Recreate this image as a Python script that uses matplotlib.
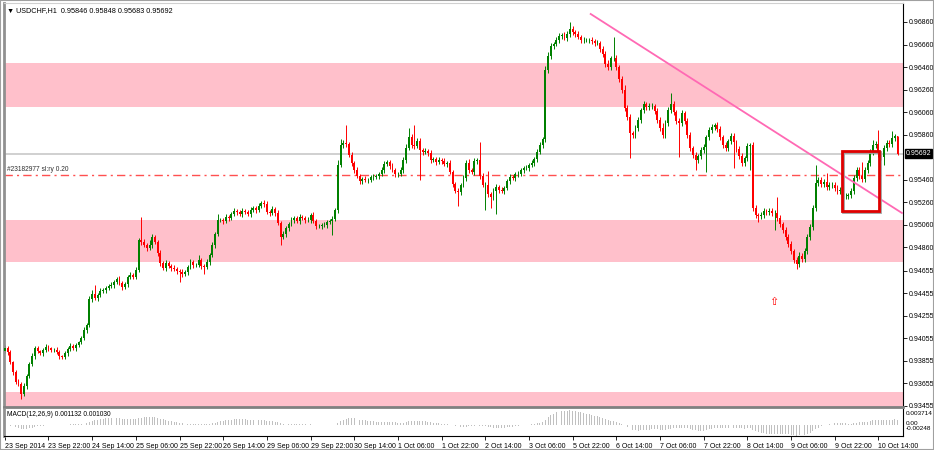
import numpy as np
import pandas as pd
import matplotlib
matplotlib.use("Agg")
import matplotlib.pyplot as plt
from matplotlib.patches import Rectangle
from matplotlib.transforms import blended_transform_factory

plt.rcParams["font.family"] = ["Liberation Sans", "DejaVu Sans"]

# USDCHF H1 closes, 23 Sep 2014 06:00 -> 10 Oct 2014 (16 bars per row)
closes = [
    0.93968, 0.93933, 0.93844, 0.93755, 0.93667, 0.93649, 0.93560, 0.93631, 0.93720, 0.93826, 0.93897, 0.93968, 0.93942, 0.93924, 0.93951, 0.93977,
    0.93968, 0.93951, 0.93951, 0.93933, 0.93897, 0.93889, 0.93924, 0.93960, 0.93986, 0.93968, 0.93995, 0.94022, 0.94057, 0.94128, 0.94172, 0.94403,
    0.94447, 0.94412, 0.94438, 0.94474, 0.94483, 0.94501, 0.94518, 0.94527, 0.94554, 0.94580, 0.94545, 0.94509, 0.94536, 0.94598, 0.94616, 0.94598,
    0.94660, 0.94926, 0.94909, 0.94882, 0.94855, 0.94882, 0.94953, 0.94909, 0.94811, 0.94722, 0.94678, 0.94722, 0.94696, 0.94678, 0.94669, 0.94651,
    0.94642, 0.94625, 0.94642, 0.94687, 0.94731, 0.94705, 0.94705, 0.94749, 0.94696, 0.94687, 0.94731, 0.94793, 0.94882, 0.94980, 0.95104, 0.95104,
    0.95095, 0.95130, 0.95121, 0.95157, 0.95184, 0.95175, 0.95157, 0.95184, 0.95175, 0.95157, 0.95192, 0.95210, 0.95192, 0.95228, 0.95255, 0.95246,
    0.95175, 0.95166, 0.95201, 0.95166, 0.95077, 0.94953, 0.94980, 0.95033, 0.95068, 0.95104, 0.95121, 0.95095, 0.95130, 0.95121, 0.95104, 0.95104,
    0.95148, 0.95095, 0.95051, 0.95051, 0.95059, 0.95059, 0.95086, 0.95095, 0.95113, 0.95192, 0.95592, 0.95769, 0.95787, 0.95778, 0.95680, 0.95609,
    0.95547, 0.95494, 0.95450, 0.95467, 0.95459, 0.95459, 0.95485, 0.95485, 0.95494, 0.95512, 0.95547, 0.95600, 0.95618, 0.95583, 0.95547, 0.95512,
    0.95512, 0.95547, 0.95636, 0.95742, 0.95840, 0.95769, 0.95760, 0.95804, 0.95725, 0.95707, 0.95716, 0.95698, 0.95636, 0.95645, 0.95618, 0.95636,
    0.95627, 0.95600, 0.95609, 0.95529, 0.95423, 0.95361, 0.95352, 0.95414, 0.95476, 0.95609, 0.95547, 0.95529, 0.95627, 0.95636, 0.95494, 0.95414,
    0.95414, 0.95334, 0.95308, 0.95361, 0.95396, 0.95370, 0.95361, 0.95388, 0.95450, 0.95485, 0.95476, 0.95512, 0.95512, 0.95547, 0.95565, 0.95565,
    0.95592, 0.95609, 0.95645, 0.95707, 0.95769, 0.95822, 0.96434, 0.96558, 0.96647, 0.96665, 0.96700, 0.96736, 0.96745, 0.96718, 0.96754, 0.96798,
    0.96771, 0.96754, 0.96727, 0.96700, 0.96700, 0.96700, 0.96700, 0.96691, 0.96674, 0.96674, 0.96621, 0.96576, 0.96487, 0.96461, 0.96541, 0.96541,
    0.96461, 0.96354, 0.96257, 0.96097, 0.96017, 0.95875, 0.95858, 0.95920, 0.95991, 0.96079, 0.96133, 0.96106, 0.96115, 0.96115, 0.96071, 0.95991,
    0.95920, 0.95858, 0.95964, 0.96079, 0.96133, 0.96062, 0.95982, 0.95964, 0.96053, 0.95982, 0.95858, 0.95742, 0.95680, 0.95636, 0.95671, 0.95725,
    0.95751, 0.95840, 0.95902, 0.95929, 0.95946, 0.95911, 0.95840, 0.95769, 0.95742, 0.95804, 0.95849, 0.95796, 0.95734, 0.95671, 0.95609, 0.95654,
    0.95760, 0.95769, 0.95210, 0.95148, 0.95139, 0.95148, 0.95184, 0.95175, 0.95184, 0.95166, 0.95166, 0.95121, 0.95068, 0.95015, 0.94953, 0.94891,
    0.94829, 0.94749, 0.94713, 0.94784, 0.94758, 0.94829, 0.94953, 0.95042, 0.95210, 0.95432, 0.95459, 0.95423, 0.95441, 0.95396, 0.95414, 0.95414,
    0.95388, 0.95361, 0.95370, 0.95317, 0.95317, 0.95325, 0.95361, 0.95476, 0.95547, 0.95494, 0.95467, 0.95547, 0.95609, 0.95707, 0.95769, 0.95778,
    0.95689, 0.95663, 0.95742, 0.95787, 0.95778, 0.95831, 0.95846, 0.95692,
]
first_open = 0.93940

# wick lengths above / below the body, in pips
wick_up = [
    3, 2, 2, 1, 2, 3, 2, 3, 2, 2, 3, 2, 2, 1, 2, 3,
    2, 1, 2, 3, 2, 1, 2, 2, 3, 2, 2, 1, 2, 3, 2, 3,
    4, 8, 2, 3, 2, 2, 2, 3, 2, 2, 3, 2, 2, 2, 3, 2,
    3, 2, 20, 3, 2, 4, 3, 2, 2, 3, 2, 3, 2, 2, 3, 2,
    2, 3, 2, 2, 3, 2, 2, 4, 2, 2, 3, 2, 3, 2, 5, 2,
    2, 3, 2, 2, 3, 2, 2, 3, 2, 2, 3, 2, 2, 3, 2, 3,
    3, 2, 3, 2, 3, 2, 3, 2, 2, 3, 2, 2, 3, 2, 2, 3,
    2, 3, 2, 2, 2, 3, 2, 2, 3, 2, 4, 5, 3, 16, 2, 3,
    2, 3, 2, 2, 3, 2, 2, 3, 2, 2, 3, 3, 2, 2, 3, 2,
    2, 3, 3, 4, 8, 3, 18, 3, 3, 2, 3, 2, 3, 2, 2, 3,
    2, 3, 2, 3, 2, 2, 3, 2, 3, 3, 4, 2, 3, 2, 16, 3,
    3, 12, 2, 3, 3, 2, 3, 2, 2, 3, 2, 2, 3, 2, 2, 3,
    2, 3, 2, 3, 3, 2, 4, 4, 3, 2, 3, 3, 2, 3, 3, 6,
    3, 2, 3, 2, 3, 2, 2, 3, 2, 3, 2, 3, 3, 4, 2, 19,
    3, 2, 3, 4, 3, 3, 2, 3, 3, 2, 3, 2, 3, 3, 2, 3,
    3, 4, 3, 3, 10, 3, 2, 3, 3, 2, 3, 3, 2, 3, 2, 3,
    3, 2, 3, 3, 2, 3, 3, 2, 3, 2, 3, 3, 2, 3, 3, 2,
    3, 2, 3, 3, 2, 3, 3, 2, 3, 3, 3, 14, 3, 2, 3, 3,
    3, 2, 3, 4, 3, 3, 3, 3, 3, 16, 3, 3, 3, 8, 3, 3,
    3, 3, 3, 2, 3, 2, 3, 3, 3, 3, 12, 3, 3, 3, 4, 3,
    12, 3, 3, 3, 3, 6, 2, 0.2,
]
wick_dn = [
    2, 3, 2, 3, 2, 2, 4, 2, 3, 2, 2, 3, 2, 2, 3, 2,
    3, 2, 2, 2, 3, 2, 2, 3, 2, 2, 3, 2, 2, 2, 3, 2,
    3, 2, 3, 2, 2, 3, 2, 2, 3, 2, 2, 3, 2, 3, 2, 2,
    2, 2, 3, 2, 3, 2, 3, 2, 3, 3, 2, 3, 2, 3, 2, 3,
    9, 3, 2, 3, 2, 3, 2, 2, 3, 6, 2, 3, 2, 3, 2, 2,
    3, 2, 3, 2, 2, 3, 2, 3, 2, 2, 3, 2, 3, 2, 2, 3,
    2, 3, 2, 3, 2, 7, 2, 3, 3, 2, 3, 2, 3, 2, 3, 2,
    3, 2, 3, 2, 3, 2, 3, 2, 12, 2, 3, 2, 3, 3, 2, 3,
    3, 2, 3, 3, 2, 3, 2, 3, 2, 3, 2, 3, 2, 3, 2, 3,
    3, 2, 3, 3, 2, 3, 3, 2, 27, 3, 2, 3, 3, 2, 3, 2,
    3, 2, 3, 2, 3, 2, 12, 3, 2, 3, 3, 2, 3, 3, 3, 2,
    22, 3, 10, 3, 20, 3, 2, 3, 2, 3, 2, 3, 3, 2, 3, 2,
    3, 2, 3, 3, 2, 3, 3, 3, 3, 3, 2, 3, 3, 2, 3, 3,
    3, 3, 2, 3, 3, 2, 3, 3, 3, 2, 3, 3, 3, 3, 3, 3,
    3, 3, 3, 3, 3, 22, 3, 3, 3, 3, 3, 3, 3, 3, 3, 3,
    3, 3, 3, 3, 3, 3, 3, 30, 3, 3, 3, 3, 3, 9, 3, 3,
    3, 22, 3, 3, 3, 3, 3, 3, 3, 3, 3, 23, 3, 3, 3, 3,
    3, 21, 3, 3, 5, 3, 3, 3, 3, 3, 15, 3, 3, 3, 3, 3,
    3, 3, 4, 3, 3, 3, 3, 3, 3, 3, 3, 3, 3, 3, 3, 3,
    3, 3, 3, 4, 3, 3, 3, 3, 3, 3, 3, 3, 3, 3, 3, 3,
    3, 3, 7, 3, 3, 3, 3, 0.9,
]

time_labels = ["23 Sep 2014", "23 Sep 22:00", "24 Sep 14:00", "25 Sep 06:00", "25 Sep 22:00",
               "26 Sep 14:00", "29 Sep 06:00", "29 Sep 22:00", "30 Sep 14:00", "1 Oct 06:00",
               "1 Oct 22:00", "2 Oct 14:00", "3 Oct 06:00", "5 Oct 22:00", "6 Oct 14:00",
               "7 Oct 06:00", "7 Oct 22:00", "8 Oct 14:00", "9 Oct 06:00", "9 Oct 22:00",
               "10 Oct 14:00"]
price_ticks = [0.96860, 0.96660, 0.96460, 0.96260, 0.96060, 0.95860, 0.95460, 0.95260, 0.95060,
               0.94860, 0.94655, 0.94455, 0.94255, 0.94055, 0.93855, 0.93655, 0.93455]

# drawn objects
zones = [(0.96109, 0.96494), (0.94734, 0.95104), (0.93400, 0.93581)]
bid = 0.95692
stop_loss = 0.95503
trend_x = [214.6, 328.6]
trend_y = [0.96931, 0.95166]
box_x = (306.5, 320.3)
box_y = (0.95186, 0.95718)
arrow_pos = (281.7, 0.94376)

closes = np.array(closes)
opens = np.concatenate([[first_open], closes[:-1]])
highs = np.maximum(opens, closes) + np.array(wick_up) * 0.0001
lows = np.minimum(opens, closes) - np.array(wick_dn) * 0.0001
n = len(closes)
idx = np.arange(n)

s = pd.Series(closes)
macd = (s.ewm(span=12, adjust=False).mean() - s.ewm(span=26, adjust=False).mean()).values

W, H = 934, 450
fig = plt.figure(figsize=(W / 100, H / 100), dpi=100)
fig.patch.set_facecolor("white")

ax = fig.add_axes([4 / W, (H - 407) / H, 899 / W, 404 / H])
axm = fig.add_axes([4 / W, (H - 436) / H, 899 / W, 27 / H], sharex=ax)

for lo, hi in zones:
    ax.axhspan(lo, hi, color="#FFC0CB", lw=0, zorder=0)
ax.axhline(bid, color="#C8C8C8", lw=1.2, zorder=1)
ax.axhline(stop_loss, color="#FF5050", lw=1, ls=(0, (6, 3, 1.5, 3)), zorder=1)

up = closes >= opens
colors = np.where(up, "#008000", "#FF0000")
ax.vlines(idx, lows, highs, colors=colors, lw=0.7, zorder=2)
body_h = np.maximum(np.abs(closes - opens), 0.00003)
ax.bar(idx, body_h, bottom=np.minimum(opens, closes), width=0.7, color=colors, lw=0, zorder=3)

ax.plot(trend_x, trend_y, color="#FF69B4", lw=1.3, zorder=4)
ax.add_patch(Rectangle((box_x[0] + 0.4, box_y[0] - 0.00008), box_x[1] - box_x[0], box_y[1] - box_y[0],
                       fill=False, ec="#A0A0A0", lw=2, zorder=4))
ax.add_patch(Rectangle((box_x[0], box_y[0]), box_x[1] - box_x[0], box_y[1] - box_y[0],
                       fill=False, ec="#E00000", lw=2, zorder=5))
ax.text(arrow_pos[0], arrow_pos[1], "\u21e7", color="#FF0000", fontsize=8, ha="center", va="center",
        family="DejaVu Sans", zorder=5)

ax.set_xlim(-0.3, 329.0)
ax.set_ylim(0.934450, 0.970285)
ax.yaxis.tick_right()
ax.set_yticks(price_ticks)
ax.set_yticklabels(["%.5f" % p for p in price_ticks])
ax.tick_params(axis="y", labelsize=5, length=3, width=0.6, pad=1, colors="black")
ax.tick_params(axis="x", bottom=False, labelbottom=False)
ax.spines["left"].set_color("#909090")
ax.spines["left"].set_linewidth(2)
ax.spines["top"].set_color("#D0D0D0")
ax.spines["right"].set_color("black")
ax.spines["right"].set_linewidth(0.8)
ax.spines["bottom"].set_color("#808080")
ax.spines["bottom"].set_linewidth(2)

tr = blended_transform_factory(ax.transAxes, ax.transData)
ax.text(1.003, bid, "%.5f" % bid, transform=tr, fontsize=5, color="white", va="center", ha="left",
        bbox=dict(boxstyle="square,pad=0.12", fc="black", ec="black"), zorder=6, clip_on=False)
ax.text(0.003, stop_loss + 0.0002, "#23182977 sl:ry 0.20", transform=tr, fontsize=4.8, color="#303030",
        va="bottom", ha="left")
ax.text(0.003, 0.99, "\u25bc USDCHF,H1  0.95846 0.95848 0.95683 0.95692", transform=ax.transAxes,
        fontsize=5.2, va="top", ha="left", color="black")

# MACD pane
axm.bar(idx, macd, width=0.35, color="#C0C0C0", lw=0)
axm.set_ylim(-0.00248, 0.003714)
axm.set_yticks([])
axm.set_xticks(np.arange(0, 321, 16))
axm.set_xticklabels(time_labels, ha="left")
axm.tick_params(axis="x", labelsize=5, length=3, width=0.6, pad=2)
axm.spines["left"].set_color("#909090")
axm.spines["left"].set_linewidth(2)
axm.spines["top"].set_visible(False)
axm.spines["right"].set_color("black")
axm.spines["right"].set_linewidth(0.8)
axm.spines["bottom"].set_color("black")
axm.spines["bottom"].set_linewidth(0.8)
axm.text(0.003, 0.93, "MACD(12,26,9) 0.001132 0.001030", transform=axm.transAxes, fontsize=4.8,
         va="top", ha="left")
axm.text(1.003, 0.85, "0.003714", transform=axm.transAxes, fontsize=4.6, va="center", ha="left")
axm.text(1.003, 0.47, "0.00", transform=axm.transAxes, fontsize=4.6, va="center", ha="left")
axm.text(1.003, 0.27, "-0.00248", transform=axm.transAxes, fontsize=4.6, va="center", ha="left")

fig.patches.append(Rectangle((0, 0), 1, 1, transform=fig.transFigure, fill=False, ec="#A0A0A0", lw=1.5))
fig.savefig("out.png", dpi=100)
